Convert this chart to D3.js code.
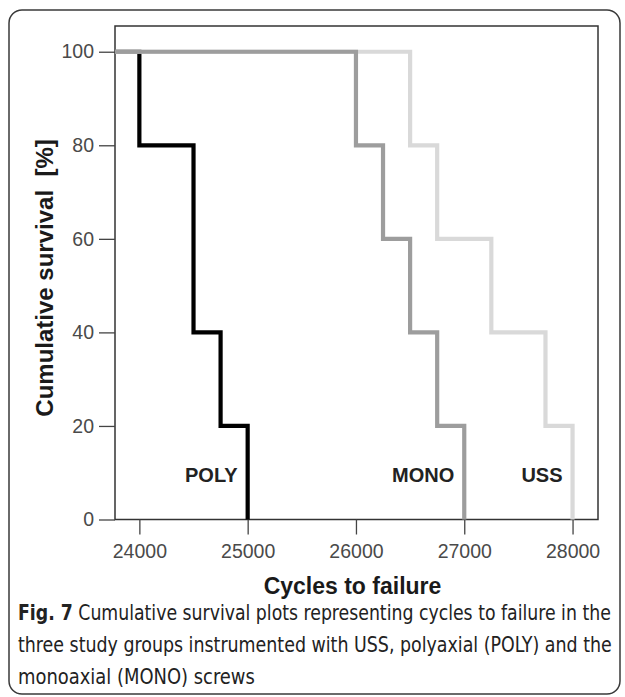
<!DOCTYPE html>
<html><head><meta charset="utf-8">
<script src="https://cdn.jsdelivr.net/npm/d3@7"></script>
<style>body{margin:0;background:#fff}svg{display:block}</style>
</head><body>
<script>
// ---- data ----
const groups = ["POLY", "MONO", "USS"];
const polyDrops = [24000, 24500, 24750, 25000];
const polyAfter = [80, 40, 20, 0];
const monoDrops = [26000, 26250, 26500, 26750, 27000];
const monoAfter = [80, 60, 40, 20, 0];
const ussDrops = [26500, 26750, 27250, 27750, 28000];
const ussAfter = [80, 60, 40, 20, 0];
const xTicks = [24000, 25000, 26000, 27000, 28000];
const yTicks = [0, 20, 40, 60, 80, 100];
const xTitle = "Cycles to failure";
const yTitle = "Cumulative survival  [%]";
const captionBold = "Fig. 7";
const captionLines = [" Cumulative survival plots representing cycles to failure in the",
  "three study groups instrumented with USS, polyaxial (POLY) and the",
  "monoaxial (MONO) screws"];

const W = 625, H = 697;
const svg = d3.select("body").append("svg").attr("width", W).attr("height", H);

// outer frame
svg.append("rect").attr("x", 9).attr("y", 10).attr("width", 611).attr("height", 684)
  .attr("rx", 13).attr("fill", "none").attr("stroke", "#3a3a3a").attr("stroke-width", 1.5);

const L = 115, R = 598, T = 26, B = 519.5;
const x = d3.scaleLinear().domain([23775, 28235]).range([L, R]);
const y = d3.scaleLinear().domain([0, 105.5]).range([B, T]);

// plot box
svg.append("rect").attr("x", L).attr("y", T).attr("width", R - L).attr("height", B - T)
  .attr("fill", "none").attr("stroke", "#333").attr("stroke-width", 1.5);

const tickFont = "'Liberation Sans', Arial, sans-serif";
// y axis
const yAxis = svg.append("g").attr("transform", `translate(${L},0)`)
  .call(d3.axisLeft(y).tickValues(yTicks).tickSize(16).tickPadding(5).tickFormat(d3.format("d")));
yAxis.select(".domain").remove();
yAxis.selectAll("line").attr("stroke", "#444").attr("stroke-width", 1.3);
yAxis.selectAll("text").attr("font-family", tickFont).attr("font-size", 19.5).attr("fill", "#4a4a4a");

// x axis
const xAxis = svg.append("g").attr("transform", `translate(0,${B})`)
  .call(d3.axisBottom(x).tickValues(xTicks).tickSize(15).tickPadding(10).tickFormat(d3.format("d")));
xAxis.select(".domain").remove();
xAxis.selectAll("line").attr("stroke", "#444").attr("stroke-width", 1.3);
xAxis.selectAll("text").attr("font-family", tickFont).attr("font-size", 19.5).attr("fill", "#4a4a4a");

// survival curves
function pts(drops, after) {
  const p = [[x.domain()[0], 100]];
  drops.forEach((t, i) => p.push([t, after[i]]));
  return p;
}
const series = {
  POLY: {pts: pts(polyDrops, polyAfter), color: "#000000", last: polyDrops[polyDrops.length - 1]},
  MONO: {pts: pts(monoDrops, monoAfter), color: "#9d9d9d", last: monoDrops[monoDrops.length - 1]},
  USS: {pts: pts(ussDrops, ussAfter), color: "#d9d9d9", last: ussDrops[ussDrops.length - 1]}
};
const line = d3.line().x(d => x(d[0])).y(d => y(d[1])).curve(d3.curveStepAfter);
["POLY", "USS", "MONO"].forEach(k => {
  svg.append("path").attr("d", line(series[k].pts)).attr("fill", "none")
    .attr("stroke", series[k].color).attr("stroke-width", 4.2).attr("stroke-linejoin", "miter");
});

// group labels
groups.forEach(g => {
  svg.append("text").attr("x", x(series[g].last) - 10).attr("y", y(8))
    .attr("text-anchor", "end").attr("font-family", tickFont).attr("font-weight", "bold")
    .attr("font-size", 20).attr("fill", "#222").text(g);
});

// axis titles
svg.append("text").attr("x", (L + R) / 2 - 4).attr("y", 594).attr("text-anchor", "middle")
  .attr("font-family", tickFont).attr("font-weight", "bold").attr("font-size", 23)
  .attr("fill", "#1a1a1a").text(xTitle);
svg.append("text").attr("transform", `translate(53,278) rotate(-90)`).attr("text-anchor", "middle")
  .attr("font-family", tickFont).attr("font-weight", "bold").attr("font-size", 24)
  .attr("fill", "#1a1a1a").style("white-space", "pre").text(yTitle);

// caption
const capFont = "'Liberation Sans Narrow', 'DejaVu Sans Condensed', 'Liberation Sans', sans-serif";
const capTargets = [[18, 611, 620], [18, 612, 652], [18, 255, 684]];
captionLines.forEach((ln, i) => {
  const [x0, x1, yb] = capTargets[i];
  const t = svg.append("text").attr("x", 0).attr("y", 0)
    .attr("font-family", capFont).attr("font-size", 20.5).attr("fill", "#222")
    .style("white-space", "pre");
  if (i === 0) t.append("tspan").attr("font-weight", "bold").text(captionBold);
  t.append("tspan").text(ln);
  const w = t.node().getComputedTextLength();
  t.attr("transform", `translate(${x0},${yb}) scale(${(x1 - x0) / w},1)`);
});
</script>
</body></html>
